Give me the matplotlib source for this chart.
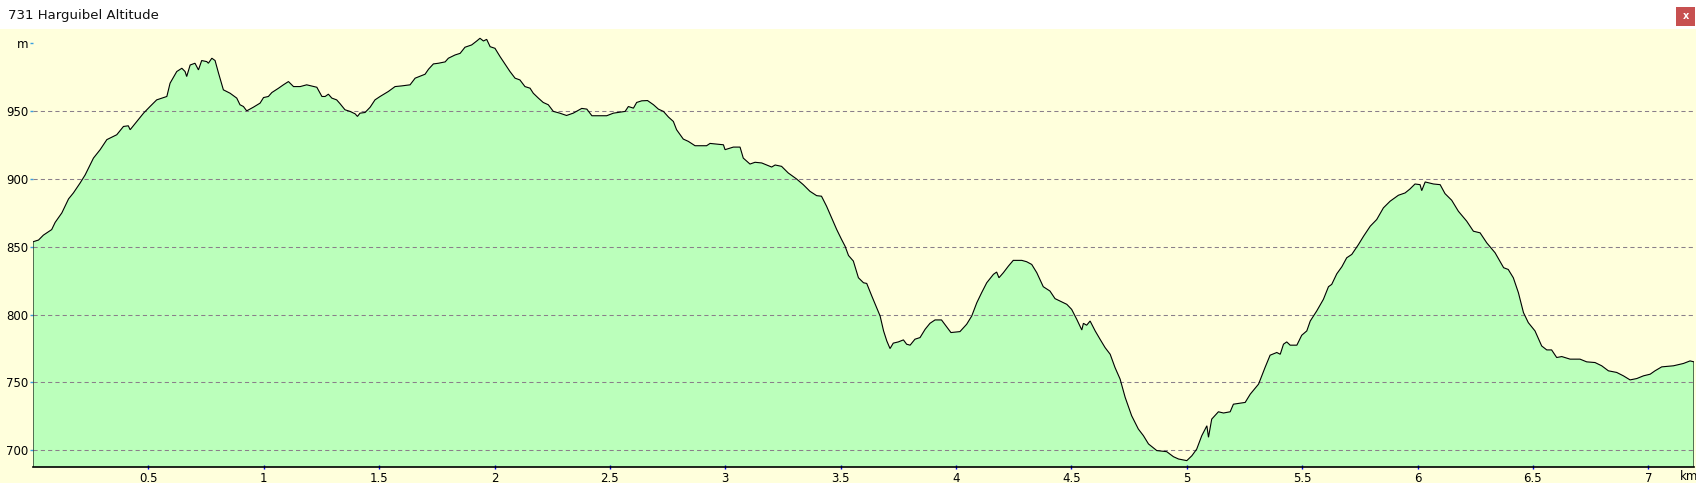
import matplotlib
matplotlib.use("Agg")
import matplotlib.pyplot as plt
from matplotlib.patches import Rectangle

# distance along the track (km) and altitude (m)
km = [0.000, 0.024, 0.045, 0.081, 0.096, 0.125, 0.154, 0.175, 0.204, 0.226,
      0.262, 0.291, 0.320, 0.363, 0.392, 0.413, 0.421, 0.450, 0.479, 0.507,
      0.536, 0.580, 0.594, 0.623, 0.645, 0.659, 0.666, 0.681, 0.702, 0.717,
      0.731, 0.753, 0.760, 0.775, 0.789, 0.804, 0.825, 0.854, 0.883, 0.897,
      0.912, 0.926, 0.955, 0.984, 0.999, 1.020, 1.035, 1.064, 1.085, 1.107,
      1.129, 1.158, 1.186, 1.230, 1.252, 1.266, 1.280, 1.295, 1.316, 1.331,
      1.352, 1.374, 1.396, 1.406, 1.417, 1.439, 1.461, 1.482, 1.504, 1.540,
      1.569, 1.598, 1.634, 1.656, 1.699, 1.714, 1.735, 1.757, 1.786, 1.800,
      1.829, 1.851, 1.872, 1.901, 1.923, 1.937, 1.952, 1.966, 1.981, 2.002,
      2.024, 2.045, 2.067, 2.089, 2.110, 2.132, 2.154, 2.168, 2.190, 2.211,
      2.233, 2.255, 2.283, 2.312, 2.341, 2.378, 2.400, 2.422, 2.486, 2.515,
      2.566, 2.580, 2.602, 2.616, 2.638, 2.663, 2.689, 2.710, 2.732, 2.754,
      2.775, 2.789, 2.818, 2.840, 2.869, 2.919, 2.934, 2.992, 2.999, 3.035,
      3.064, 3.078, 3.107, 3.129, 3.158, 3.201, 3.216, 3.244, 3.273, 3.309,
      3.338, 3.367, 3.396, 3.417, 3.439, 3.461, 3.483, 3.504, 3.519, 3.534,
      3.555, 3.577, 3.599, 3.613, 3.635, 3.656, 3.671, 3.686, 3.700, 3.714,
      3.728, 3.750, 3.772, 3.786, 3.801, 3.822, 3.844, 3.866, 3.887, 3.909,
      3.937, 3.960, 3.978, 4.017, 4.046, 4.068, 4.090, 4.111, 4.133, 4.162,
      4.176, 4.186, 4.205, 4.227, 4.248, 4.285, 4.306, 4.328, 4.350, 4.378,
      4.407, 4.429, 4.451, 4.480, 4.501, 4.523, 4.545, 4.552, 4.566, 4.581,
      4.603, 4.624, 4.646, 4.668, 4.689, 4.711, 4.733, 4.761, 4.790, 4.812,
      4.834, 4.870, 4.913, 4.942, 4.964, 5.000, 5.022, 5.043, 5.065, 5.087,
      5.094, 5.108, 5.137, 5.159, 5.188, 5.202, 5.253, 5.275, 5.311, 5.339,
      5.361, 5.390, 5.405, 5.419, 5.433, 5.448, 5.477, 5.498, 5.520, 5.535,
      5.563, 5.592, 5.614, 5.628, 5.650, 5.672, 5.693, 5.715, 5.744, 5.766,
      5.795, 5.823, 5.852, 5.881, 5.917, 5.946, 5.967, 5.989, 6.011, 6.018,
      6.033, 6.069, 6.098, 6.119, 6.148, 6.177, 6.213, 6.242, 6.271, 6.300,
      6.336, 6.373, 6.393, 6.415, 6.437, 6.459, 6.480, 6.509, 6.538, 6.560,
      6.581, 6.603, 6.625, 6.661, 6.704, 6.733, 6.769, 6.798, 6.827, 6.863,
      6.892, 6.921, 6.950, 6.979, 7.008, 7.029, 7.058, 7.109, 7.152, 7.181,
      7.198]
alt = [853.7, 855.0, 858.6, 862.7, 868.0, 875.0, 885.3, 889.7, 897.0, 903.0,
       915.4, 921.6, 929.0, 932.6, 938.7, 939.2, 936.3, 942.4, 948.5, 953.4,
       958.3, 960.8, 970.6, 979.2, 981.6, 979.2, 975.5, 984.0, 985.3, 980.4,
       987.3, 986.5, 985.3, 989.0, 987.3, 978.0, 965.7, 963.2, 959.6, 954.7,
       953.4, 950.2, 952.9, 955.9, 960.0, 960.8, 963.7, 966.9, 969.4, 971.8,
       968.1, 968.1, 969.4, 967.6, 960.8, 960.8, 962.5, 959.6, 958.3, 955.4,
       951.0, 949.8, 948.0, 946.1, 948.5, 949.0, 952.9, 958.3, 960.8, 964.5,
       968.1, 968.6, 969.4, 974.3, 977.2, 980.9, 984.8, 985.3, 986.3, 989.0,
       991.4, 992.6, 997.1, 998.8, 1001.7, 1003.7, 1001.7, 1002.9, 997.5, 996.3,
       990.2, 984.8, 979.2, 974.3, 973.0, 968.1, 966.9, 963.2, 959.6, 956.4,
       954.7, 949.8, 948.5, 946.8, 948.5, 952.0, 951.5, 946.6, 946.6, 948.5,
       949.8, 953.4, 952.2, 956.4, 957.6, 957.8, 954.7, 951.5, 949.8, 945.6,
       942.4, 936.3, 929.4, 927.7, 924.5, 924.5, 926.2, 925.2, 921.6, 923.5,
       923.5, 915.4, 911.0, 912.3, 911.8, 908.8, 910.3, 909.3, 904.4, 900.0,
       895.8, 890.9, 887.7, 887.3, 879.9, 871.3, 862.7, 855.4, 850.5, 843.6,
       839.5, 827.2, 823.5, 823.0, 813.7, 805.1, 799.0, 788.0, 780.6, 775.0,
       779.0, 779.9, 781.4, 778.2, 777.5, 781.9, 783.1, 789.2, 793.6, 796.1,
       796.1, 790.9, 786.8, 787.5, 792.9, 799.0, 808.8, 816.2, 823.5, 829.7,
       831.4, 827.2, 830.9, 835.8, 840.0, 840.0, 839.0, 837.0, 830.9, 820.6,
       817.4, 811.8, 810.0, 807.6, 803.9, 796.6, 788.7, 793.6, 792.2, 795.3,
       788.0, 781.9, 775.7, 770.8, 761.0, 752.5, 739.0, 725.5, 715.7, 710.8,
       704.7, 699.8, 699.0, 695.3, 693.6, 692.4, 696.0, 700.9, 710.8, 718.1,
       709.6, 723.0, 728.4, 727.5, 728.4, 734.0, 735.3, 741.4, 748.8, 761.0,
       770.1, 772.1, 770.8, 778.2, 779.9, 777.5, 777.5, 784.8, 788.0, 795.3,
       802.7, 811.3, 820.6, 822.3, 830.1, 835.3, 841.9, 844.4, 851.7, 857.8,
       865.2, 870.1, 878.7, 883.6, 888.0, 889.7, 892.6, 896.3, 895.8, 891.4,
       897.8, 896.3, 895.8, 889.2, 884.3, 876.2, 868.9, 861.5, 860.3, 852.9,
       845.6, 834.6, 833.3, 827.2, 816.2, 801.5, 794.1, 788.0, 776.9, 774.0,
       774.0, 768.4, 769.1, 767.2, 767.2, 765.2, 764.7, 762.3, 758.6, 757.4,
       754.9, 751.9, 752.9, 754.9, 756.1, 758.6, 761.5, 762.3, 764.0, 765.9,
       765.2]

y_ticks = [700, 750, 800, 850, 900, 950, 1000]
y_labels = ["700", "750", "800", "850", "900", "950", "m"]
x_ticks = [0.5, 1, 1.5, 2, 2.5, 3, 3.5, 4, 4.5, 5, 5.5, 6, 6.5, 7]
x_labels = ["0.5", "1", "1.5", "2", "2.5", "3", "3.5", "4", "4.5", "5",
            "5.5", "6", "6.5", "7"]
title = "731 Harguibel Altitude"

W, H = 1696, 483
YMIN, YMAX = 687.7, 1009.8
BG = "#ffffdc"
FILL = "#bbffbb"
GRID = "#8a7f8a"

plt.rcParams['font.family'] = ['DejaVu Sans']

fig = plt.figure(figsize=(W / 100, H / 100), dpi=100)
fig.patch.set_facecolor(BG)

# white title bar with the close button
fig.patches.append(Rectangle((0, 1 - 29 / H), 1, 29 / H, transform=fig.transFigure,
                             facecolor="white", edgecolor="none", zorder=0))
fig.patches.append(Rectangle((1676 / W, 1 - 26 / H), 19 / W, 19 / H,
                             transform=fig.transFigure, facecolor="#c75050",
                             edgecolor="none", zorder=1))
fig.text(1685.5 / W, 1 - 16 / H, "x", color="white", fontsize=7, fontweight="bold",
         ha="center", va="center")
fig.text(8 / W, 1 - 15 / H, title, fontsize=9.5, color="#111111", va="center", ha="left")

ax = fig.add_axes([33 / W, 16 / H, (1694 - 33) / W, (467 - 30) / H])
ax.set_facecolor(BG)

ax.fill_between(km, alt, YMIN, facecolor=FILL, edgecolor="none", zorder=1)
# outline including the vertical drops at both ends
ax.plot([km[0]] + km + [km[-1]], [YMIN] + alt + [YMIN], color="black", lw=0.8,
        zorder=3, solid_joinstyle="miter")

for v in y_ticks[:-1]:
    ax.axhline(v, color=GRID, lw=0.75, ls=(0, (4, 3)), zorder=2)

ax.set_xlim(0, km[-1])
ax.set_ylim(YMIN, YMAX)

for s in ["top", "right", "left"]:
    ax.spines[s].set_visible(False)
ax.spines["bottom"].set_color("black")
ax.spines["bottom"].set_linewidth(1.2)

ax.set_yticks(y_ticks)
ax.set_yticklabels(y_labels)
ax.set_xticks(x_ticks)
ax.set_xticklabels(x_labels)
ax.tick_params(axis="y", length=2.2, width=1, color="#3aa0e0", pad=1, labelsize=8.5)
ax.tick_params(axis="x", direction="inout", length=3.5, width=1, color="#0000ee",
               pad=1.5, labelsize=8.5)

fig.text(1689 / W, 1 - 476 / H, "km", fontsize=8.5, ha="center", va="center")

fig.savefig("out.png", dpi=100, facecolor=fig.get_facecolor())
